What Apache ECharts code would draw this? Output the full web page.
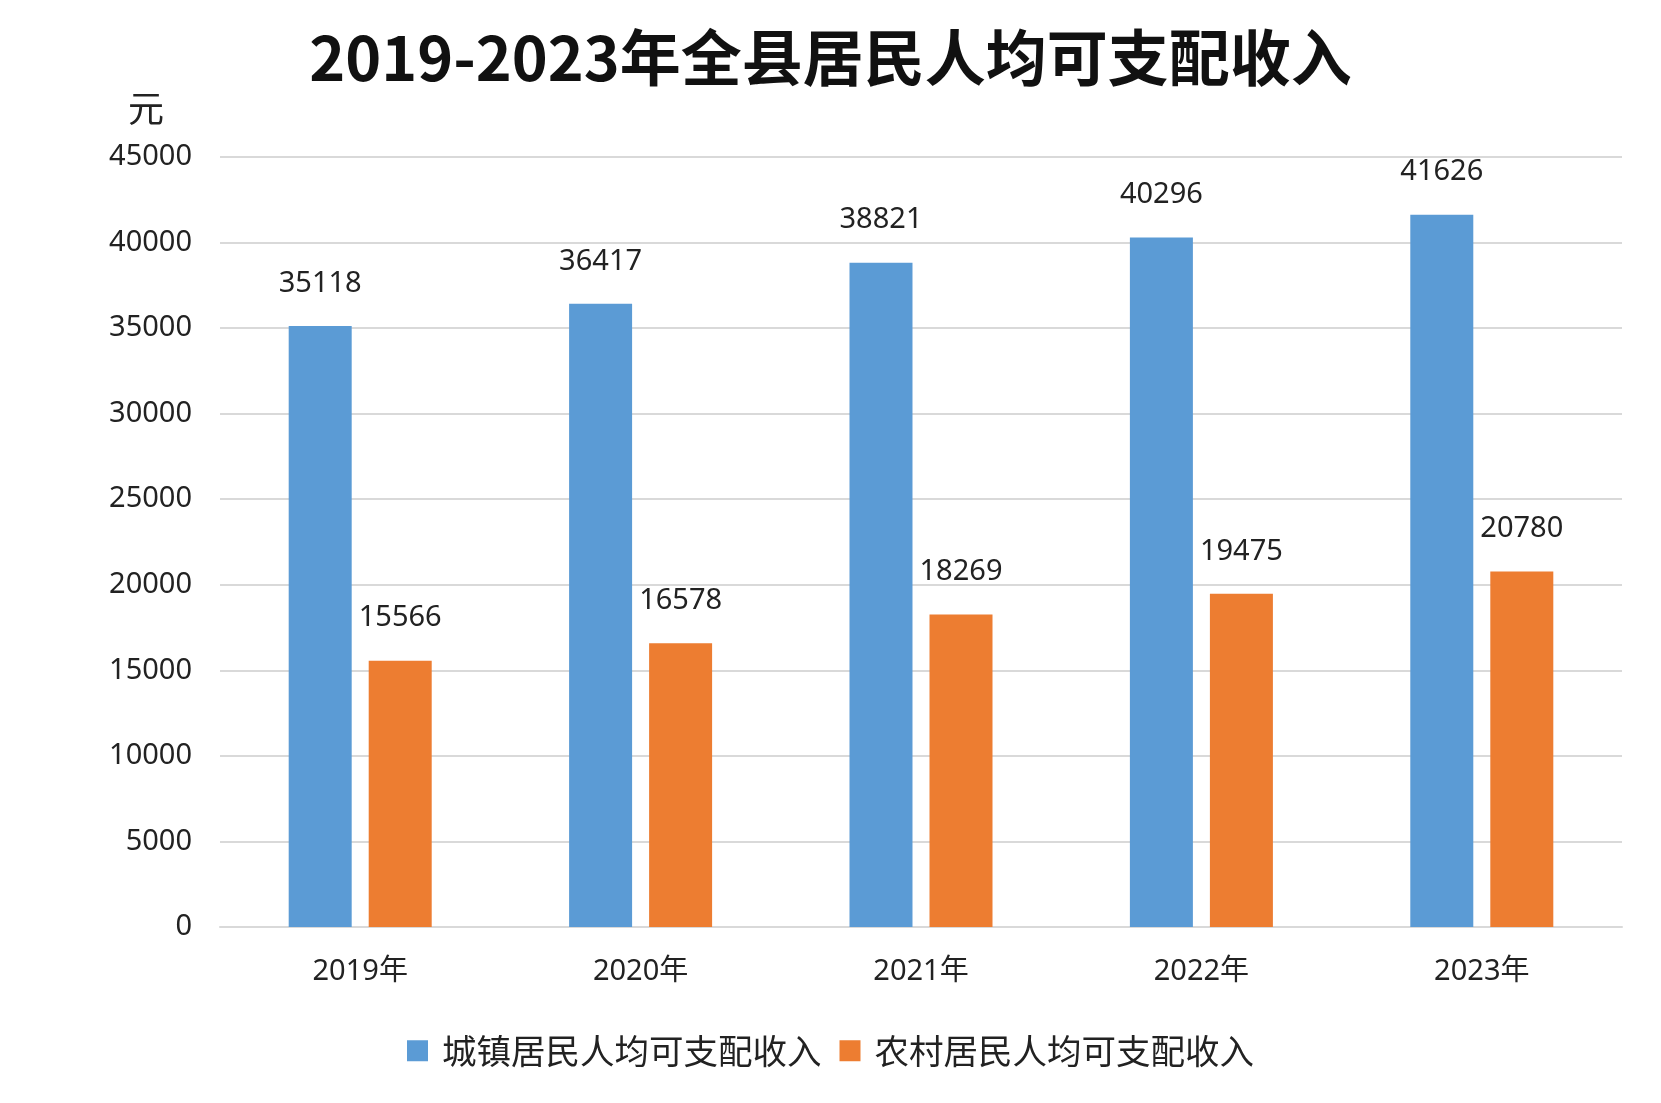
<!DOCTYPE html>
<html>
<head>
<meta charset="utf-8">
<script src="https://cdn.jsdelivr.net/npm/echarts@6/dist/echarts.min.js"></script>
<style>
html,body{margin:0;padding:0;background:#fff;}
#chart{width:1661px;height:1103px;}
</style>
</head>
<body>
<div id="chart"></div>
<script>
const categories = ['2019年', '2020年', '2021年', '2022年', '2023年'];
const urbanName = '城镇居民人均可支配收入';
const ruralName = '农村居民人均可支配收入';
const urbanValues = [35118, 36417, 38821, 40296, 41626];
const ruralValues = [15566, 16578, 18269, 19475, 20780];
const titleText = '2019-2023年全县居民人均可支配收入';
const unitText = '元';

const numFont = "'Noto Sans', 'Noto Sans CJK SC', sans-serif";
const cjkFont = "'Noto Sans CJK SC', 'Noto Sans', sans-serif";

const chart = echarts.init(document.getElementById('chart'), null, {renderer: 'canvas'});
chart.setOption({
  backgroundColor: '#ffffff',
  animation: false,
  title: {
    text: titleText,
    left: 'center',
    top: 22,
    textStyle: {fontFamily: cjkFont, fontSize: 61, fontWeight: 'bold', color: '#111'}
  },
  graphic: [{
    type: 'text',
    left: 128,
    top: 90,
    style: {text: unitText, fontSize: 36, fontFamily: cjkFont, fill: '#222'}
  }],
  legend: {
    data: [urbanName, ruralName],
    bottom: 30,
    left: 'center',
    itemWidth: 21,
    itemHeight: 21,
    itemGap: 18,
    icon: 'rect',
    textStyle: {fontFamily: cjkFont, fontSize: 34.5, color: '#222', padding: [0, 0, 0, 9]}
  },
  grid: {left: 220, right: 39, top: 157, bottom: 176, containLabel: false},
  xAxis: {
    type: 'category',
    data: categories,
    axisLine: {lineStyle: {color: '#d9d9d9', width: 2}},
    axisTick: {show: false},
    axisLabel: {fontFamily: numFont, fontSize: 29, color: '#222', margin: 30}
  },
  yAxis: {
    type: 'value',
    min: 0,
    max: 45000,
    interval: 5000,
    axisLine: {show: false},
    axisTick: {show: false},
    splitLine: {lineStyle: {color: '#d9d9d9', width: 2}},
    axisLabel: {fontFamily: numFont, fontSize: 29, color: '#222', margin: 28, formatter: function (v) { return String(v); }}
  },
  series: [
    {
      name: urbanName,
      type: 'bar',
      data: urbanValues,
      barWidth: 63,
      barGap: '27%',
      itemStyle: {color: '#5B9BD5'},
      label: {show: true, position: 'top', distance: 28, fontFamily: numFont, fontSize: 29, color: '#222'}
    },
    {
      name: ruralName,
      type: 'bar',
      data: ruralValues,
      barWidth: 63,
      barGap: '27%',
      itemStyle: {color: '#ED7D31'},
      label: {show: true, position: 'top', distance: 28, fontFamily: numFont, fontSize: 29, color: '#222'}
    }
  ]
});
</script>
</body>
</html>
